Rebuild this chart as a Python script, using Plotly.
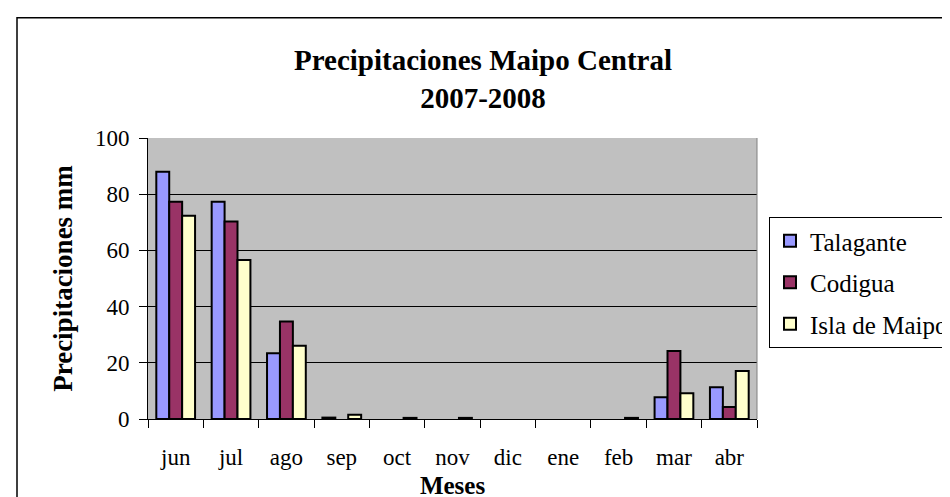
import plotly.graph_objects as go

months = ["jun", "jul", "ago", "sep", "oct", "nov", "dic", "ene", "feb", "mar", "abr"]
talagante = [88, 77.3, 23.4, 0.5, 0, 0, 0, 0, 0, 7.7, 11.3]
codigua = [77.3, 70.3, 34.7, 0, 0, 0, 0, 0, 0, 24.2, 4.3]
isla = [72.3, 56.6, 26.1, 1.5, 0.4, 0.4, 0, 0, 0.4, 9.2, 17.1]
y_ticks = [0, 20, 40, 60, 80, 100]

W, H = 950, 497
L, R, T, B = 140, 749, 130, 410.7

def px(x):
    return (x - L) / (R - L)

def py(y):
    return (B - y) / (B - T)

font_family = "Liberation Serif, Times New Roman, serif"

fig = go.Figure()
for name, vals, col in [("Talagante", talagante, "#9999FF"),
                        ("Codigua", codigua, "#993366"),
                        ("Isla de Maipo", isla, "#FFFFCC")]:
    # zero values are left undrawn (no outline at the baseline)
    shown = [v if v != 0 else None for v in vals]
    fig.add_trace(go.Bar(x=months, y=shown, name=name, legendgroup=name,
                         marker=dict(color=col, line=dict(color="black", width=2))))

fig.update_layout(
    width=W, height=H,
    margin=dict(l=L, r=W - R, t=T, b=H - B, autoexpand=False),
    paper_bgcolor="white", plot_bgcolor="#C0C0C0",
    barmode="group", bargap=0.3, bargroupgap=0,
    font=dict(family=font_family, color="black", size=23),
    title=dict(text="<b>Precipitaciones Maipo Central<br>2007-2008</b>",
               x=0.5, xref="container", xanchor="center",
               y=1 - 62 / H, yref="container", yanchor="middle",
               font=dict(size=29, family=font_family, color="black")),
    legend=dict(x=px(761), y=py(209), xanchor="left", yanchor="top",
                bgcolor="white", bordercolor="black", borderwidth=1,
                font=dict(size=25, family=font_family, color="black"),
                traceorder="grouped", tracegroupgap=6,
                itemwidth=30),
    xaxis=dict(type="category", showline=True, linecolor="black", linewidth=1,
               ticks="outside", ticklen=8, tickcolor="black", tickson="boundaries",
               ticklabelstandoff=17, showgrid=False,
               title=dict(text="<b>Meses</b>", font=dict(size=25), standoff=7)),
    yaxis=dict(range=[0, 100], tickvals=y_ticks, showline=True, linecolor="black",
               linewidth=1, ticks="outside", ticklen=8, tickcolor="black",
               showgrid=True, gridcolor="black", gridwidth=1, zeroline=False,
               ticklabelstandoff=5,
               title=dict(text="<b>Precipitaciones mm</b>", font=dict(size=27), standoff=14)),
)

# plot area border (right side) and outer chart frame
fig.add_shape(type="line", xref="paper", yref="paper", x0=1, x1=1, y0=0, y1=1,
              line=dict(color="#808080", width=1))
fig.add_shape(type="path", xref="paper", yref="paper",
              path=f"M {px(9)},{py(H + 5)} L {px(9)},{py(10)} L {px(946)},{py(10)} L {px(946)},{py(H + 5)}",
              line=dict(color="black", width=1.5))

fig.write_html("out.html")
